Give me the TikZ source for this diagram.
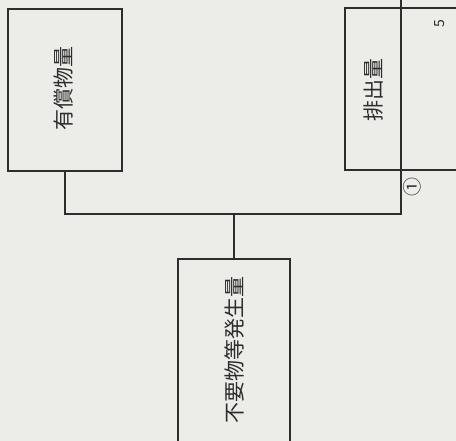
\documentclass[tikz,border=0pt]{standalone}
\usepackage{fontspec}
\setmainfont{Noto Sans CJK JP}
\definecolor{paper}{RGB}{236,236,233}
\definecolor{ink}{RGB}{45,45,45}
\tikzset{
  box/.style={draw=ink, line width=1.3pt, fill=none, inner sep=0pt},
  lbl/.style={text=ink, rotate=90, font=\fontsize{21}{21}\selectfont, inner sep=0pt},
  wire/.style={draw=ink, line width=1.3pt}
}
\begin{document}
\begin{tikzpicture}[x=1pt,y=-1pt]
\useasboundingbox (0,0) rectangle (456,441);
\fill[paper] (0,0) rectangle (456,441);
\clip (0,0) rectangle (456,441);
\node[box, minimum width=114pt, minimum height=162pt] (b1) at (65,90) {};
\node[lbl] (t1) at (64,89) {有償物量};
\node[box, minimum width=125pt, minimum height=162pt] (b2) at (407.5,89) {};
\node[lbl] (t2) at (374,90) {排出量};
\node[text=ink, rotate=90, font=\fontsize{14}{14}\selectfont, inner sep=0pt] (t5) at (440,24) {5};
\node[box, minimum width=112pt, minimum height=202pt] (b3) at (234,360) {};
\node[lbl] (t3) at (235,350) {不要物等発生量};
\node[text=ink, rotate=90, font=\fontsize{19}{19}\selectfont, inner sep=0pt] (c1) at (412,187) {①};
\coordinate (j) at (401,214);
\coordinate (top) at (401,-5);
\coordinate (m) at (234,214);
\draw[wire] (b1.south) |- (j) -- (top);
\draw[wire] (m) -- (b3.north);
\end{tikzpicture}
\end{document}
